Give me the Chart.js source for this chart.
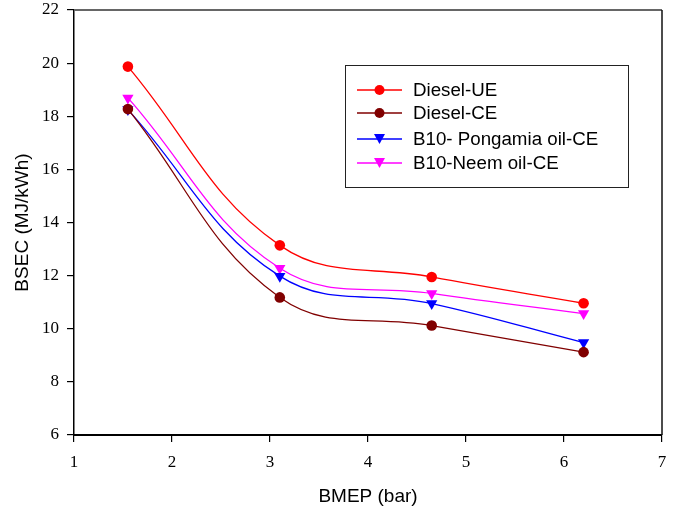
<!DOCTYPE html>
<html>
<head>
<meta charset="utf-8">
<script src="https://cdn.jsdelivr.net/npm/chart.js@4.4.1/dist/chart.umd.min.js"></script>
<style>
  html, body { margin: 0; padding: 0; background: #fff; }
  #wrap { width: 678px; height: 510px; }
</style>
</head>
<body>
<div id="wrap"><canvas id="bsec"></canvas></div>
<script>
// BMEP (bar) load points
const bmep = [1.55, 3.1, 4.65, 6.2];

// BSEC (MJ/kWh) per fuel
const dieselUE = [19.87, 13.14, 11.95, 10.96];
const dieselCE = [18.27, 11.18, 10.12, 9.12];
const pongamiaCE = [18.25, 11.98, 10.95, 9.48];
const neemCE = [18.69, 12.28, 11.33, 10.57];

const seriesNames = ['Diesel-UE', 'Diesel-CE', 'B10- Pongamia oil-CE', 'B10-Neem oil-CE'];

const xTicks = [1, 2, 3, 4, 5, 6, 7];
const yTicks = [6, 8, 10, 12, 14, 16, 18, 20, 22];

function pts(ys) {
  return bmep.map((x, i) => ({ x: x, y: ys[i] }));
}

function series(label, ys, color, style) {
  return {
    label: label,
    data: pts(ys),
    borderColor: color,
    backgroundColor: color,
    borderWidth: 1.3,
    pointStyle: style,
    pointRotation: style === 'triangle' ? 180 : 0,
    pointRadius: style === 'triangle' ? 6.5 : 5.3,
    pointBorderWidth: 0,
    tension: 0.4,
    fill: false
  };
}

// frame on top/right + legend box inside the plot
const framePlugin = {
  id: 'frame',
  afterDraw(chart) {
    const { ctx, chartArea: a } = chart;
    ctx.save();
    ctx.strokeStyle = '#666';
    ctx.lineWidth = 2;
    ctx.beginPath();
    ctx.moveTo(a.left, a.top);
    ctx.lineTo(a.right, a.top);
    ctx.stroke();
    ctx.strokeStyle = '#111';
    ctx.lineWidth = 1.5;
    ctx.beginPath();
    ctx.moveTo(a.right, a.top);
    ctx.lineTo(a.right, a.bottom);
    ctx.stroke();

    // legend
    const bx = 345, by = 65, bw = 283, bh = 122;
    ctx.strokeStyle = '#222';
    ctx.lineWidth = 1;
    ctx.strokeRect(bx + 0.5, by + 0.5, bw, bh);
    const rows = [90, 113, 139, 163];
    ctx.font = '18px "Liberation Sans", Arial, sans-serif';
    ctx.textBaseline = 'middle';
    chart.data.datasets.forEach((ds, i) => {
      const y = rows[i];
      ctx.strokeStyle = ds.borderColor;
      ctx.lineWidth = 1.3;
      ctx.beginPath();
      ctx.moveTo(357, y);
      ctx.lineTo(402, y);
      ctx.stroke();
      ctx.fillStyle = ds.backgroundColor;
      if (ds.pointStyle === 'triangle') {
        ctx.beginPath();
        ctx.moveTo(374, y - 5);
        ctx.lineTo(385, y - 5);
        ctx.lineTo(379.5, y + 5);
        ctx.closePath();
        ctx.fill();
      } else {
        ctx.beginPath();
        ctx.arc(379.5, y, 5, 0, Math.PI * 2);
        ctx.fill();
      }
      ctx.fillStyle = '#000';
      ctx.save();
      ctx.translate(413, y + 1);
      ctx.scale(1.04, 1);
      ctx.fillText(ds.label, 0, 0);
      ctx.restore();
    });
    ctx.restore();
  }
};

const serif = '"Liberation Serif", "Times New Roman", serif';
const sans = '"Liberation Sans", Arial, sans-serif';

new Chart(document.getElementById('bsec'), {
  type: 'line',
  data: {
    datasets: [
      series(seriesNames[0], dieselUE, '#ff0000', 'circle'),
      series(seriesNames[1], dieselCE, '#800000', 'circle'),
      series(seriesNames[2], pongamiaCE, '#0000ff', 'triangle'),
      series(seriesNames[3], neemCE, '#ff00ff', 'triangle')
    ]
  },
  options: {
    responsive: true,
    maintainAspectRatio: false,
    animation: false,
    layout: { padding: { left: 0, right: 16, top: 10, bottom: 0 } },
    plugins: {
      legend: { display: false },
      tooltip: { enabled: false }
    },
    scales: {
      x: {
        type: 'linear',
        min: 1,
        max: 7,
        afterBuildTicks: (s) => { s.ticks = xTicks.map(v => ({ value: v })); },
        afterFit: (s) => { s.height = 75; s.paddingLeft = 0; s.paddingRight = 0; },
        border: { display: true, color: '#000', width: 2 },
        grid: { drawOnChartArea: false, color: '#000', tickLength: 7, lineWidth: 1.2 },
        ticks: {
          color: '#000',
          padding: 10,
          font: { family: serif, size: 17 }
        },
        title: {
          display: true,
          text: 'BMEP (bar)',
          color: '#000',
          padding: { top: 0, bottom: 2 },
          font: { family: sans, size: 19 }
        }
      },
      y: {
        type: 'linear',
        min: 6,
        max: 22,
        afterBuildTicks: (s) => { s.ticks = yTicks.map(v => ({ value: v })); },
        afterFit: (s) => { s.width = 74; s.paddingTop = 0; s.paddingBottom = 0; },
        border: { display: true, color: '#000', width: 1.5 },
        grid: { drawOnChartArea: false, color: '#000', tickLength: 7, lineWidth: 1.2 },
        ticks: {
          color: '#000',
          padding: 8,
          font: { family: serif, size: 17 }
        },
        title: {
          display: true,
          text: 'BSEC (MJ/kWh)',
          color: '#000',
          padding: { top: 11, bottom: 0 },
          font: { family: sans, size: 19 }
        }
      }
    }
  },
  plugins: [framePlugin]
});
</script>
</body>
</html>
